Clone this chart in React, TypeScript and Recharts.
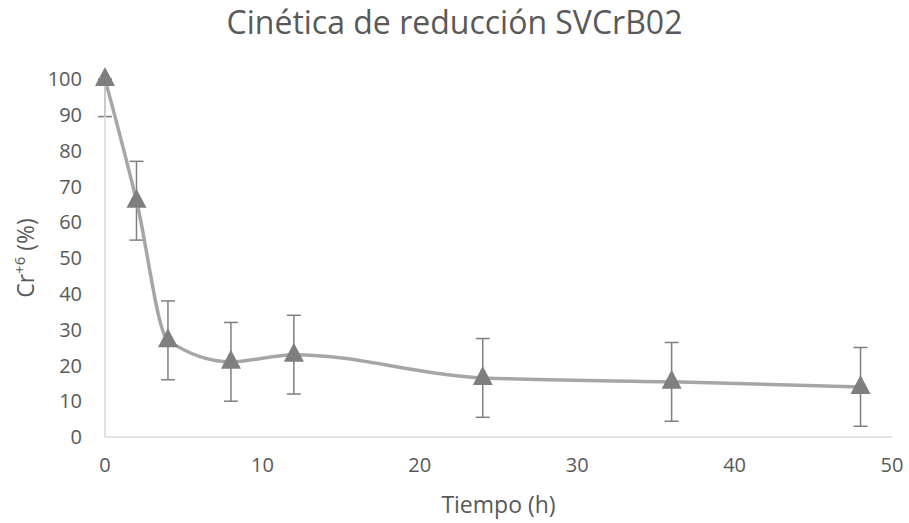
import { LineChart, Line, XAxis, YAxis, ErrorBar } from 'recharts';

const hours = [0, 2, 4, 8, 12, 24, 36, 48];
const crPercent = [100, 66, 27, 21, 23, 16.5, 15.4, 14];
// Excel clips the top bar at 0 h, so that point only has a lower arm
const errLow = [10.5, 11, 11, 11, 11, 11, 11, 11];
const errHigh = [0, 11, 11, 11, 11, 11, 11, 11];
const xTicks = [0, 10, 20, 30, 40, 50];
const yTicks = [0, 10, 20, 30, 40, 50, 60, 70, 80, 90, 100];

const data = hours.map((h, i) => ({
  h,
  cr: crPercent[i],
  err: [errLow[i], errHigh[i]],
}));

const FONT = '"Open Sans", sans-serif';
const TEXT = '#595959';

function Triangle(props: any) {
  const { cx, cy, index } = props;
  if (cx == null || cy == null) return null;
  return (
    <polygon
      key={`tri-${index}`}
      points={`${cx},${cy - 12} ${cx - 10},${cy + 7} ${cx + 10},${cy + 7}`}
      fill="#7f7f7f"
    />
  );
}

function YTitle(props: any) {
  const { viewBox } = props;
  const x = 34;
  const y = viewBox.y + viewBox.height / 2;
  return (
    <text
      x={x}
      y={y}
      transform={`rotate(-90, ${x}, ${y})`}
      textAnchor="middle"
      fill={TEXT}
      fontSize={23}
      fontFamily={FONT}
    >
      Cr
      <tspan dy={-9} fontSize={15}>+6</tspan>
      <tspan dy={9}> (%)</tspan>
    </text>
  );
}

export default function App() {
  return (
    <div style={{ position: 'absolute', left: 0, top: 0, width: 909, height: 523, background: '#fff' }}>
      <div
        style={{
          position: 'absolute',
          top: 0,
          width: 909,
          textAlign: 'center',
          fontFamily: FONT,
          fontSize: 32,
          color: TEXT,
        }}
      >
        Cinética de reducción SVCrB02
      </div>
      <LineChart
        width={909}
        height={523}
        data={data}
        margin={{ top: 79, right: 17, bottom: 0, left: 30 }}
      >
        <XAxis
          dataKey="h"
          type="number"
          domain={[0, 50]}
          ticks={xTicks}
          height={86}
          tickLine={false}
          axisLine={{ stroke: '#d9d9d9', strokeWidth: 1.5 }}
          tick={{ fontSize: 20, fill: TEXT, fontFamily: FONT }}
          tickMargin={15}
          label={{
            value: 'Tiempo (h)',
            position: 'insideBottom',
            offset: 10,
            fontSize: 23,
            fill: TEXT,
            fontFamily: FONT,
          }}
        />
        <YAxis
          type="number"
          domain={[0, 100]}
          ticks={yTicks}
          width={75}
          tickLine={false}
          axisLine={{ stroke: '#d9d9d9', strokeWidth: 1.5 }}
          tick={{ fontSize: 20, fill: TEXT, fontFamily: FONT }}
          tickMargin={17}
          label={<YTitle />}
        />
        <Line
          dataKey="cr"
          type="monotone"
          stroke="#a6a6a6"
          strokeWidth={3.5}
          dot={<Triangle />}
          activeDot={false}
          isAnimationActive={false}
        >
          <ErrorBar dataKey="err" direction="y" width={7} stroke="#7f7f7f" strokeWidth={1.5} />
        </Line>
      </LineChart>
    </div>
  );
}
